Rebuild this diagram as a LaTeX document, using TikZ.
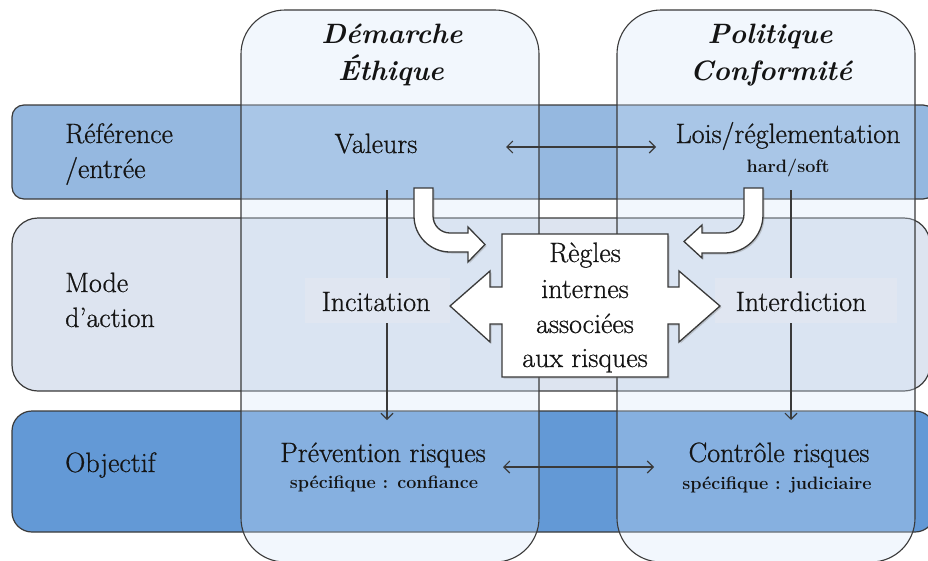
\documentclass[tikz,border=0pt]{standalone}
\usepackage{fontspec}
\usetikzlibrary{arrows.meta,shadows}
\newfontfamily\heavyrm{Latin Modern Roman}[FakeBold=0.7]
\definecolor{lineC}{RGB}{58,58,58}
\definecolor{refC}{RGB}{149,184,224}
\definecolor{modeC}{RGB}{221,228,240}
\definecolor{objC}{RGB}{99,153,214}
\definecolor{colC}{RGB}{214,230,249}
\definecolor{txtboxC}{RGB}{224,230,241}
\definecolor{txtC}{RGB}{20,20,20}
\begin{document}
\begin{tikzpicture}[x=1pt,y=-1pt,
  rowbox/.style={draw=lineC, line width=1.2pt},
  colbox/.style={draw=lineC, line width=1.1pt, fill=colC, fill opacity=0.31},
  lbl/.style={font=\heavyrm\fontsize{28}{33}\selectfont, inner sep=0pt, anchor=base, text=txtC},
  head/.style={lbl, font=\fontsize{28}{33}\selectfont\bfseries\itshape},
  small/.style={lbl, font=\fontsize{18}{21}\selectfont\bfseries},
  thinarrow/.style={draw=lineC, line width=1.1pt, {Straight Barb[length=6pt,width=12pt]}-{Straight Barb[length=6pt,width=12pt]}},
  downarrow/.style={draw=lineC, line width=1.1pt, -{Straight Barb[length=6pt,width=12pt]}},
  whiteshape/.style={draw=lineC, line width=1.3pt, fill=white, drop shadow={opacity=0.35, shadow xshift=1.5pt, shadow yshift=-1.5pt}},
  tbox/.style={fill=txtboxC, inner sep=0pt}]
\useasboundingbox (0,0) rectangle (928,560);
\fill[white] (0,0) rectangle (928,560);

% rows
\draw[rowbox, fill=refC, rounded corners=12pt] (12,105) rectangle (935,199);
\draw[rowbox, fill=modeC, rounded corners=26pt] (12,218) rectangle (930,391);
\draw[rowbox, fill=objC, rounded corners=20pt] (12,411) rectangle (935,532);

% columns
\draw[colbox, rounded corners=44pt] (241,10) rectangle (539,562);
\draw[colbox, rounded corners=44pt] (617,10) rectangle (915,562);

% arrow end points
\coordinate (h1a) at (506,147);
\coordinate (h1b) at (656,147);
\coordinate (h2a) at (503,467);
\coordinate (h2b) at (654,467);
\coordinate (v1a) at (387,190);
\coordinate (v1b) at (387,420);
\coordinate (v2a) at (791,190);
\coordinate (v2b) at (791,420);

\draw[thinarrow] (h1a) -- (h1b);
\draw[thinarrow] (h2a) -- (h2b);
\draw[downarrow] (v1a) -- (v1b);
\draw[downarrow] (v2a) -- (v2b);

% text boxes of the mode row
\node[tbox, minimum width=145pt, minimum height=45pt] (incbox) at (377.5,300.5) {};
\node[tbox, minimum width=182pt, minimum height=45pt] (intbox) at (806,300.5) {};

% bent arrows
\path[whiteshape] (414,188) -- (433,188) -- (433,216)
  .. controls (433,225.4) and (440.6,233) .. (450,233)
  -- (468,233) -- (468,227) -- (485,244.5) -- (468,262) -- (468,252) -- (450,252)
  .. controls (430.1,252) and (414,235.9) .. (414,216) -- cycle;
\path[whiteshape] (763,188) -- (744,188) -- (744,214)
  .. controls (744,224.5) and (735.5,233) .. (725,233)
  -- (702,233) -- (702,225) -- (684,241.5) -- (702,258) -- (702,253) -- (725,253)
  .. controls (746,253) and (763,236) .. (763,215) -- cycle;

% cross shape
\path[whiteshape] (502,234) -- (668,234) -- (668,287) -- (679,287) -- (679,271)
  -- (720,306) -- (679,342) -- (679,324) -- (668,324) -- (668,377) -- (502,377)
  -- (502,324) -- (490,324) -- (490,342) -- (450,306) -- (490,271) -- (490,287)
  -- (502,287) -- cycle;

% headings
\node[head] (dem1) at (392,43) {Démarche};
\node[head] (dem2) at (391,80) {Éthique};
\node[head] (pol1) at (770,43) {Politique};
\node[head] (pol2) at (771,80) {Conformité};

% row labels
\node[lbl, anchor=base west] (ref1) at (65,143) {Référence};
\node[lbl, anchor=base west] (ref2) at (65,178) {/entrée};
\node[lbl, anchor=base west] (mode1) at (65,292) {Mode};
\node[lbl, anchor=base west] (mode2) at (65,327) {d’action};
\node[lbl, anchor=base west] (obj) at (65,472) {Objectif};

% cells
\node[lbl] (val) at (376,153) {Valeurs};
\node[lbl] (lois) at (788,143) {Lois/réglementation};
\node[small] (hard) at (788,172) {hard/soft};
\node[lbl] (inc) at (376,311) {Incitation};
\node[lbl] (int) at (801,311) {Interdiction};
\node[lbl] (reg1) at (585,262) {Règles};
\node[lbl] (reg2) at (585,298) {internes};
\node[lbl] (reg3) at (585,333) {associées};
\node[lbl] (reg4) at (585,367) {aux risques};
\node[lbl] (prev) at (383,462) {Prévention risques};
\node[small] (prev2) at (384,488) {spécifique : confiance};
\node[lbl] (ctrl) at (779,462) {Contrôle risques};
\node[small] (ctrl2) at (777,489) {spécifique : judiciaire};
\end{tikzpicture}
\end{document}
